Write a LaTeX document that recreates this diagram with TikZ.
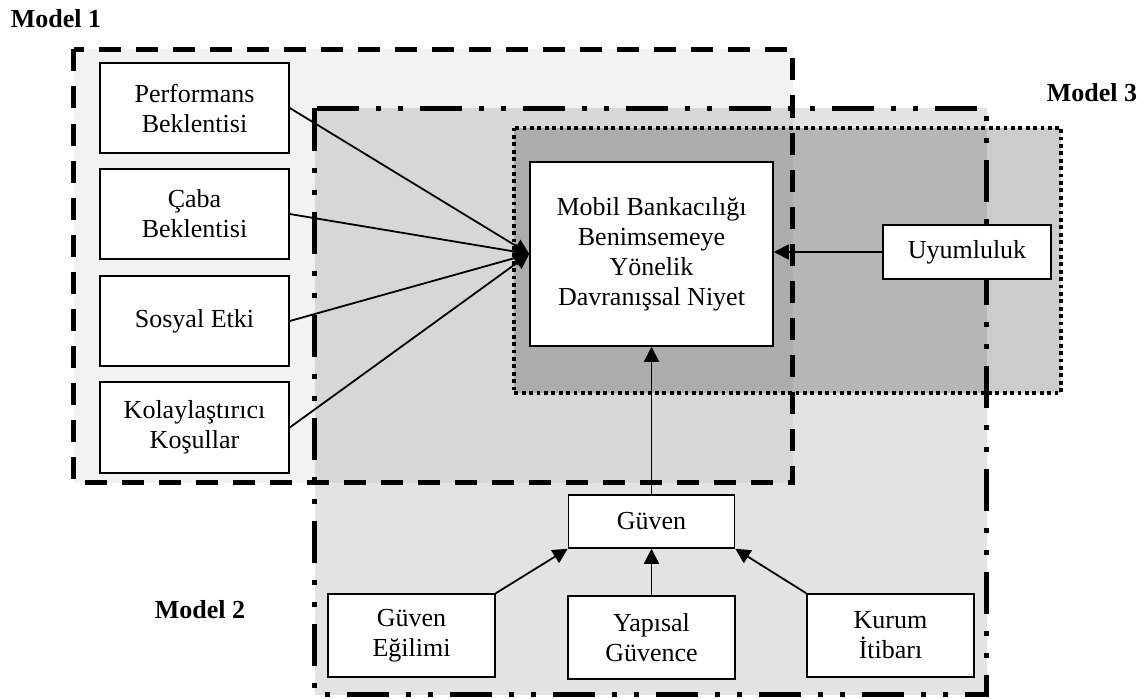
\documentclass[tikz,border=0pt]{standalone}
\usepackage{fontspec}
\setmainfont{Liberation Serif}
\usetikzlibrary{arrows.meta}
\begin{document}
\begin{tikzpicture}[x=1pt,y=-1pt,
  box/.style={draw=black, line width=1.5pt, fill=white, align=center, inner sep=0pt,
    font=\fontsize{26}{30}\selectfont},
  arr/.style={line width=1.8pt, -{Triangle[length=15pt,width=15pt]}},
  lbl/.style={font=\fontsize{26}{30}\selectfont\bfseries},
  mone/.style={line width=4.5pt, dash pattern=on 22pt off 15pt},
  mtwo/.style={line width=4.8pt, dash pattern=on 42pt off 17pt on 5pt off 17pt on 5pt off 17pt},
  mthree/.style={line width=4pt, dash pattern=on 3.8pt off 3.6pt}]
\useasboundingbox (0,0) rectangle (1147,698);
% fills
\fill[black, fill opacity=0.05] (73.5,49.5) rectangle (792.5,482.5);
\fill[black, fill opacity=0.11] (314.5,108.5) rectangle (986.5,694.5);
\fill[black, fill opacity=0.20] (513.5,127.5) rectangle (1061,393);
% borders
\draw[mthree] (513.5,127.5) rectangle (1061,393);
\draw[mone] (73.5,49.5) rectangle (792.5,482.5);
\draw[mtwo] (314.5,108.5) rectangle (986.5,694.5);
% labels
\node[lbl] (lab1) at (56,19) {Model 1};
\node[lbl] (lab2) at (200,610) {Model 2};
\node[lbl] (lab3) at (1092,93) {Model 3};
% nodes
\node[box, minimum width=189pt, minimum height=90pt] (perf) at (194.5,108) {Performans\\Beklentisi};
\node[box, minimum width=189pt, minimum height=90pt] (caba) at (194.5,214) {Çaba\\Beklentisi};
\node[box, minimum width=189pt, minimum height=90pt] (sosyal) at (194.5,321) {Sosyal Etki};
\node[box, minimum width=189pt, minimum height=91pt] (kolay) at (194.5,427.5) {Kolaylaştırıcı\\Koşullar};
\node[box, minimum width=243pt, minimum height=184pt] (mobil) at (651.5,254) {Mobil Bankacılığı\\Benimsemeye\\Yönelik\\Davranışsal Niyet};
\node[box, minimum width=168pt, minimum height=54pt] (uyum) at (967,252) {Uyumluluk};
\node[box, minimum width=166pt, minimum height=53pt] (guven) at (651.5,521.5) {Güven};
\node[box, minimum width=167pt, minimum height=83pt] (egilim) at (411.5,635.5) {Güven\\Eğilimi};
\node[box, minimum width=167pt, minimum height=83pt] (yapisal) at (651.5,637.5) {Yapısal\\Güvence};
\node[box, minimum width=167pt, minimum height=83pt] (kurum) at (890.5,635.5) {Kurum\\İtibarı};
% arrows
\draw[arr] (perf.east) -- (mobil.west);
\draw[arr] (caba.east) -- (mobil.west);
\draw[arr] (sosyal.east) -- (mobil.west);
\draw[arr] (kolay.east) -- (mobil.west);
\draw[arr] (uyum.west) -- (uyum.west -| mobil.east);
\draw[arr] (guven.north) -- (mobil.south);
\draw[arr] (egilim.north east) -- (guven.south west);
\draw[arr] (yapisal.north) -- (guven.south);
\draw[arr] (kurum.north west) -- (guven.south east);
\end{tikzpicture}
\end{document}
